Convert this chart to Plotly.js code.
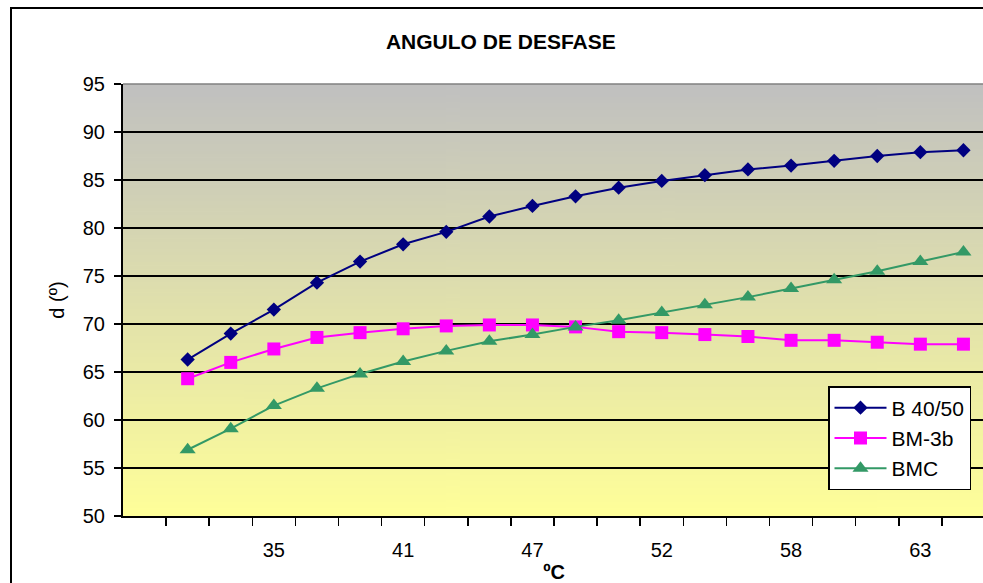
<!DOCTYPE html>
<html><head><meta charset="utf-8">
<script src="https://cdn.plot.ly/plotly-3.0.1.min.js"></script>
<style>
html,body{margin:0;padding:0;background:#fff;overflow:hidden;width:983px;height:583px;}
#frame{position:absolute;left:10px;top:7px;width:1000px;height:600px;border:2px solid #000;box-sizing:border-box;}
#chart{position:absolute;left:0;top:0;width:986px;height:583px;}
</style></head><body>
<div id="frame"></div><div id="chart"></div>
<script>
// Categories (temperature, ºC) – only every third label is shown on the axis
const temps = ['31','33','35','37','39','41','43','45','47','49','50','52','54','56','58','60','61','63','65'];
const shownLabels = ['35','41','47','52','58','63'];
// Series values (phase angle, º)
const b4050 = [66.3,69.0,71.5,74.3,76.5,78.3,79.6,81.2,82.3,83.3,84.2,84.9,85.5,86.1,86.5,87.0,87.5,87.9,88.1];
const bm3b  = [64.3,66.0,67.4,68.6,69.1,69.5,69.8,69.9,69.9,69.7,69.2,69.1,68.9,68.7,68.3,68.3,68.1,67.9,67.9];
const bmc   = [56.9,59.1,61.5,63.3,64.8,66.1,67.2,68.2,68.9,69.7,70.4,71.2,72.0,72.8,73.7,74.6,75.5,76.5,77.5];

const FONT = 'Liberation Sans, Arial, sans-serif';

// background gradient of the plot area
const cv = document.createElement('canvas'); cv.width = 4; cv.height = 256;
const cx = cv.getContext('2d');
const gr = cx.createLinearGradient(0, 0, 0, 256);
gr.addColorStop(0, '#C0C0C0'); gr.addColorStop(1, '#FFFF99');
cx.fillStyle = gr; cx.fillRect(0, 0, 4, 256);
const bgURL = cv.toDataURL();

const traces = [
  {name:'B 40/50', x:temps, y:b4050, type:'scatter', mode:'lines+markers',
   line:{color:'#000080', width:2}, marker:{symbol:'diamond', size:11, color:'#000080'}},
  {name:'BM-3b', x:temps, y:bm3b, type:'scatter', mode:'lines+markers',
   line:{color:'#FF00FF', width:2}, marker:{symbol:'square', size:13, color:'#FF00FF'}},
  {name:'BMC', x:temps, y:bmc, type:'scatter', mode:'lines+markers',
   line:{color:'#339966', width:2}, marker:{symbol:'triangle-up', size:14, color:'#339966'}}
];

const layout = {
  width:986, height:583,
  margin:{l:123, r:1, t:84, b:67},
  paper_bgcolor:'rgba(0,0,0,0)', plot_bgcolor:'rgba(0,0,0,0)',
  font:{family:FONT, size:20, color:'#000'},
  title:{text:'ANGULO DE DESFASE', font:{family:FONT, size:21, color:'#000', weight:'bold'},
         xref:'container', x:0.508, xanchor:'center', yref:'container', y:1-42/583, yanchor:'middle'},
  xaxis:{type:'category', categoryorder:'array', categoryarray:temps, range:[-1.5, 18.5],
         tickmode:'array', tickvals:temps, ticktext:temps.map(t => shownLabels.includes(t) ? t : ''),
         tickson:'boundaries', ticks:'outside', ticklen:8, tickwidth:1.5, tickcolor:'#000',
         showgrid:false, zeroline:false, showline:true, linecolor:'#000', linewidth:2,
         tickfont:{family:FONT, size:20, color:'#000'}, ticklabelstandoff:15,
         title:{text:'ºC', font:{family:FONT, size:20, color:'#000', weight:'bold'}, standoff:3}},
  yaxis:{range:[50,95], tick0:50, dtick:5, ticks:'outside', ticklen:7, tickwidth:1.5, tickcolor:'#000',
         showgrid:true, gridcolor:'#000', gridwidth:1.5, zeroline:false,
         showline:true, linecolor:'#000', linewidth:2,
         tickfont:{family:FONT, size:20, color:'#000'}, ticklabelstandoff:5,
         title:{text:'d (º)', font:{family:FONT, size:20, color:'#000'}, standoff:13}},
  legend:{x:(828-123)/862, y:(516-386)/432, xanchor:'left', yanchor:'top',
          bgcolor:'#fff', bordercolor:'#000', borderwidth:1.5, itemwidth:52,
          font:{family:FONT, size:21, color:'#000'}},
  images:[{source:bgURL, xref:'paper', yref:'paper', x:0, y:1, sizex:1, sizey:1,
           xanchor:'left', yanchor:'top', sizing:'stretch', layer:'below'}],
  shapes:[{type:'line', xref:'paper', yref:'paper', x0:0, x1:1, y0:1, y1:1,
           line:{color:'#808080', width:1.5}}],
  showlegend:true
};

Plotly.newPlot('chart', traces, layout, {displayModeBar:false, staticPlot:true});
</script>
</body></html>
